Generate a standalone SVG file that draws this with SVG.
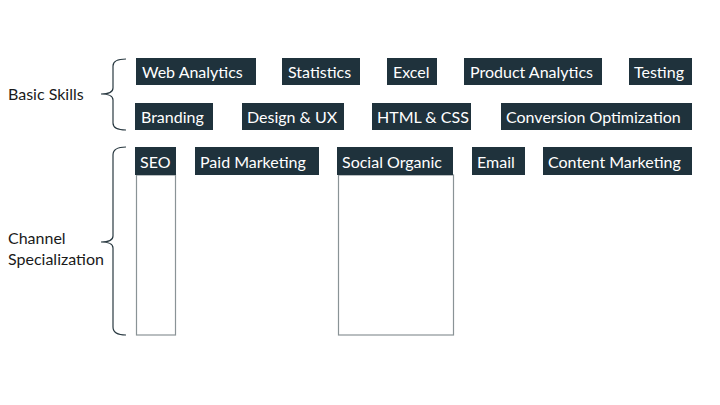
<svg xmlns="http://www.w3.org/2000/svg" width="720" height="405" viewBox="0 0 720 405">
<style>
.b{fill:#1f323c}
.t{fill:#ffffff;font-family:Lato,"Liberation Sans",sans-serif;font-size:16px}
.l{fill:#1a1a1a;font-family:Lato,"Liberation Sans",sans-serif;font-size:16px}
.o{fill:none;stroke:#8a9396;stroke-width:1.2}
.br{fill:none;stroke:#2a3a42;stroke-width:1.2}
</style>
<rect width="720" height="405" fill="#ffffff"/>
<g id="labels">
<text class="l" x="8" y="100">Basic Skills</text>
<text class="l" x="8" y="244">Channel</text>
<text class="l" x="8" y="265">Specialization</text>
</g>
<g id="connectors">
<path class="br" d="M126,59 Q113,59 113,66 L113,88 Q113,94 101,94 Q113,94 113,100 L113,123 Q113,130 126,130"/>
<path class="br" d="M126,147 Q113,147 113,155 L113,236 Q113,242 101,242 Q113,242 113,248 L113,327 Q113,335 126,335"/>
</g>
<g id="web-analytics"><rect class="b" x="136" y="58" width="120" height="27"/><text class="t" x="142" y="78">Web Analytics</text></g>
<g id="statistics"><rect class="b" x="282" y="58" width="78" height="27"/><text class="t" x="288" y="78">Statistics</text></g>
<g id="excel"><rect class="b" x="387" y="58" width="50" height="27"/><text class="t" x="393" y="78">Excel</text></g>
<g id="product-analytics"><rect class="b" x="464" y="58" width="138" height="27"/><text class="t" x="470" y="78">Product Analytics</text></g>
<g id="testing"><rect class="b" x="629" y="58" width="63" height="27"/><text class="t" x="634" y="78">Testing</text></g>
<g id="branding"><rect class="b" x="135" y="103" width="78" height="27"/><text class="t" x="141" y="123">Branding</text></g>
<g id="design-ux"><rect class="b" x="242" y="103" width="102" height="27"/><text class="t" x="247" y="123">Design &amp; UX</text></g>
<g id="html-css"><rect class="b" x="372" y="103" width="99" height="27"/><text class="t" x="377" y="123">HTML &amp; CSS</text></g>
<g id="conversion-optimization"><rect class="b" x="501" y="103" width="191" height="27"/><text class="t" x="506" y="123">Conversion Optimization</text></g>
<g id="seo"><rect class="o" x="136.5" y="175" width="39" height="160"/><rect class="b" x="135" y="147" width="41" height="28"/><text class="t" x="140" y="168">SEO</text></g>
<g id="paid-marketing"><rect class="b" x="195" y="147" width="124" height="28"/><text class="t" x="200" y="168">Paid Marketing</text></g>
<g id="social-organic"><rect class="o" x="338.5" y="175" width="115" height="160"/><rect class="b" x="337" y="147" width="116" height="28"/><text class="t" x="342" y="168">Social Organic</text></g>
<g id="email"><rect class="b" x="472" y="147" width="53" height="28"/><text class="t" x="477" y="168">Email</text></g>
<g id="content-marketing"><rect class="b" x="543" y="147" width="149" height="28"/><text class="t" x="548" y="168">Content Marketing</text></g>
</svg>
